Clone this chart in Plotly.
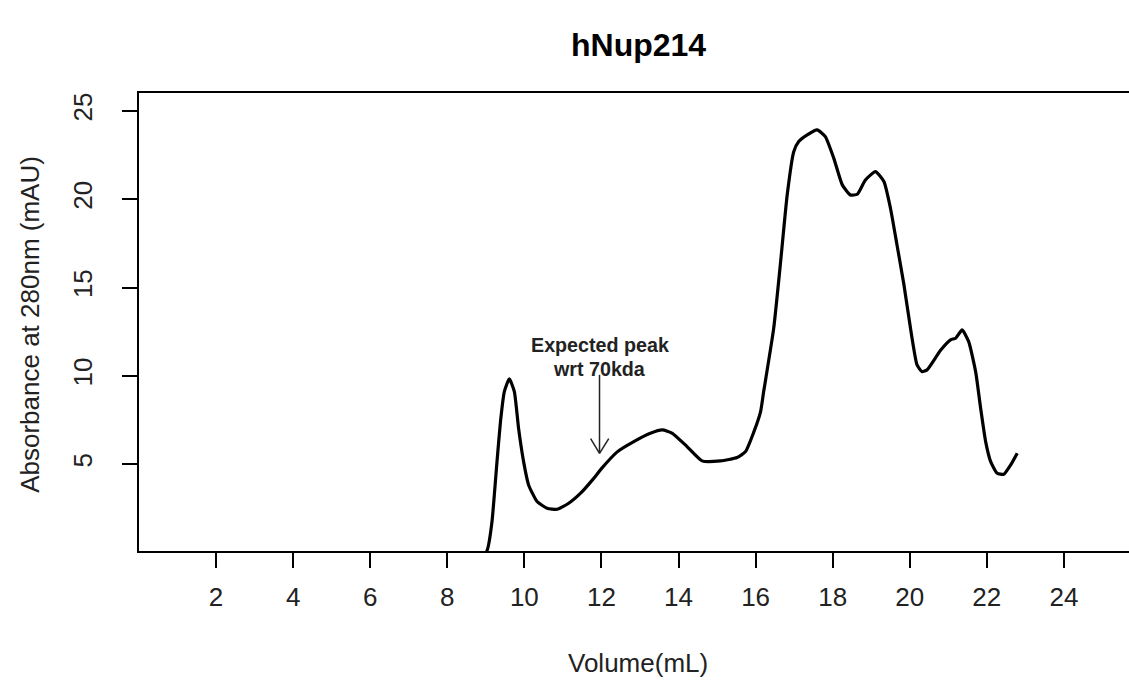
import plotly.graph_objects as go

# Data
volume_ml = [0.0, 3.0, 6.0, 8.9, 9.0, 9.05, 9.16, 9.29, 9.38, 9.48, 9.61, 9.74, 9.85, 9.98, 10.11, 10.33,
             10.59, 10.85, 11.15, 11.46, 11.8, 12.0, 12.41, 12.84, 13.27, 13.58, 13.84, 14.22,
             14.61, 15.09, 15.52, 15.74, 15.95, 16.13, 16.21, 16.47, 16.65, 16.82, 16.99,
             17.12, 17.34, 17.6, 17.81, 18.03, 18.25, 18.46, 18.64, 18.85, 19.11, 19.33,
             19.5, 19.67, 19.85, 20.02, 20.19, 20.32, 20.45, 20.8, 21.06, 21.19, 21.36,
             21.53, 21.71, 21.84, 21.97, 22.1, 22.27, 22.44, 22.62, 22.79]
absorbance_mau = [0.0, 0.0, 0.0, 0.0, 0.0, 0.24, 1.75, 5.15, 7.41, 9.11, 9.83, 9.11, 7.03, 5.15, 3.83, 2.89,
                  2.51, 2.45, 2.79, 3.36, 4.2, 4.75, 5.7, 6.28, 6.75, 6.94, 6.75, 6.0,
                  5.19, 5.19, 5.38, 5.72, 6.8, 7.98, 9.11, 12.69, 16.47, 20.24, 22.69,
                  23.26, 23.64, 23.92, 23.54, 22.31, 20.81, 20.24, 20.28, 21.09, 21.56, 21.0,
                  19.49, 17.41, 15.15, 12.69, 10.62, 10.24, 10.34, 11.45, 12.04, 12.13, 12.6,
                  11.94, 10.24, 8.17, 6.28, 5.15, 4.49, 4.43, 4.96, 5.62]

x_ticks = [2, 4, 6, 8, 10, 12, 14, 16, 18, 20, 22, 24]
y_ticks = [5, 10, 15, 20, 25]

title_text = "hNup214"
x_title = "Volume(mL)"
y_title = "Absorbance at 280nm (mAU)"
note_lines = ["Expected peak", "wrt 70kda"]
note_volume = 11.95

FONT = "Liberation Sans, Arial, sans-serif"

fig = go.Figure()
fig.add_trace(go.Scatter(
    x=volume_ml, y=absorbance_mau, mode="lines",
    line=dict(color="black", width=3.2, shape="spline", smoothing=0.5),
    hoverinfo="x+y", showlegend=False,
))

# arrow pointing to expected peak
arrow_col = "#222222"
fig.add_shape(type="line", x0=note_volume, x1=note_volume, y0=10.06, y1=5.62,
              line=dict(color=arrow_col, width=1.5), xref="x", yref="y")
fig.add_shape(type="line", x0=11.72, x1=note_volume, y0=6.45, y1=5.62,
              line=dict(color=arrow_col, width=1.5), xref="x", yref="y")
fig.add_shape(type="line", x0=12.19, x1=note_volume, y0=6.45, y1=5.62,
              line=dict(color=arrow_col, width=1.5), xref="x", yref="y")

fig.add_annotation(x=note_volume, y=11.77, xref="x", yref="y", text="<b>%s</b>" % note_lines[0],
                   showarrow=False, xanchor="center", yanchor="middle",
                   font=dict(family=FONT, size=19.7, color="#222222"))
fig.add_annotation(x=note_volume, y=10.41, xref="x", yref="y", text="<b>%s</b>" % note_lines[1],
                   showarrow=False, xanchor="center", yanchor="middle",
                   font=dict(family=FONT, size=19.7, color="#222222"))

# titles
fig.add_annotation(x=0.5045, y=1.105, xref="paper", yref="paper", text="<b>%s</b>" % title_text,
                   showarrow=False, xanchor="center", yanchor="middle",
                   font=dict(family=FONT, size=32, color="black"))
fig.add_annotation(x=0.5045, y=-0.245, xref="paper", yref="paper", text=x_title,
                   showarrow=False, xanchor="center", yanchor="middle",
                   font=dict(family=FONT, size=26, color="#222222"))
fig.add_annotation(x=-0.110, y=0.494, xref="paper", yref="paper", text=y_title, textangle=-90,
                   showarrow=False, xanchor="center", yanchor="middle",
                   font=dict(family=FONT, size=26, color="#222222"))

fig.update_layout(
    width=1129, height=682,
    margin=dict(l=139, r=0, t=93, b=131),
    paper_bgcolor="white", plot_bgcolor="white",
    font=dict(family=FONT, size=26, color="#222222"),
    xaxis=dict(range=[0, 25.69], tickvals=x_ticks, ticktext=[str(v) for v in x_ticks],
               showgrid=False, zeroline=False, showline=True, linecolor="black", linewidth=2,
               mirror=True, ticks="outside", ticklen=15, tickwidth=1.5, tickcolor="black",
               ticklabelstandoff=7, tickfont=dict(family=FONT, size=26, color="#222222")),
    yaxis=dict(range=[0.09, 26.01], tickvals=y_ticks, ticktext=[str(v) for v in y_ticks],
               showgrid=False, zeroline=False, showline=True, linecolor="black", linewidth=2,
               mirror=False, ticks="outside", ticklen=15, tickwidth=1.5, tickcolor="black",
               tickangle=-90, ticklabelstandoff=20,
               tickfont=dict(family=FONT, size=26, color="#222222")),
)

fig.write_html("out.html")
